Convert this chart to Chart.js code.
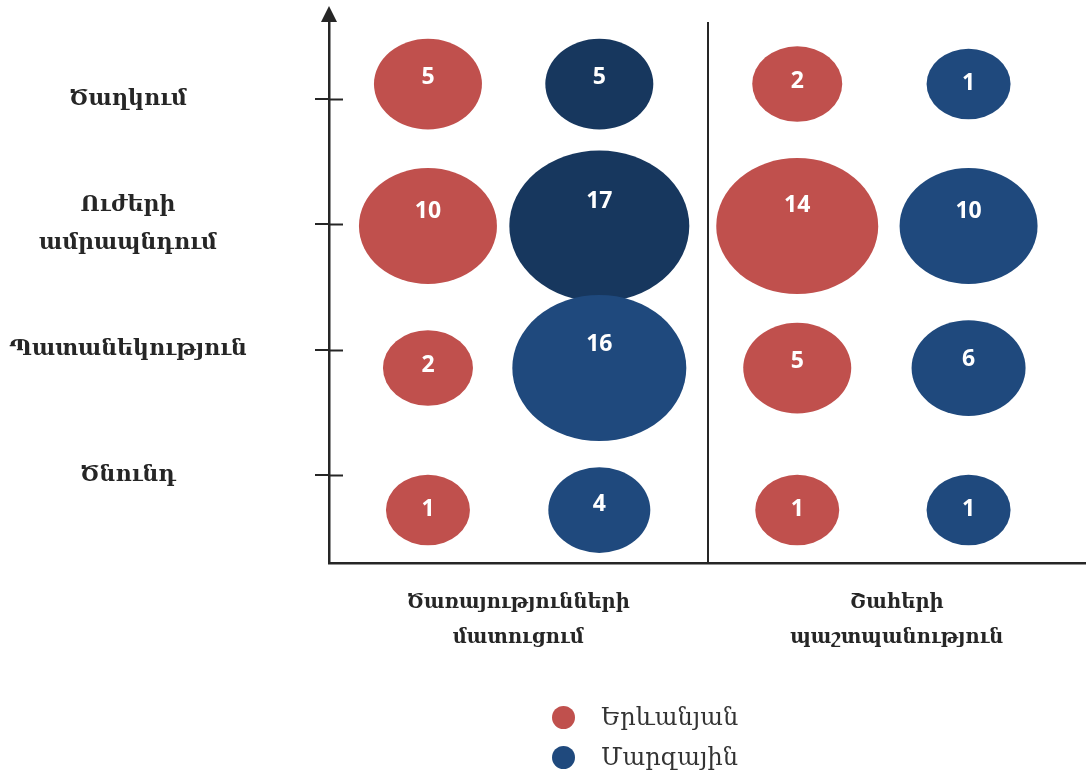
<!DOCTYPE html>
<html>
<head>
<meta charset="utf-8">
<script src="https://cdn.jsdelivr.net/npm/chart.js@4/dist/chart.umd.min.js"></script>
<style>
    html, body { margin: 0; padding: 0; background: #fff; }
    #wrap { position: relative; width: 1086px; height: 780px; }
    #legend { position: absolute; left: 552px; top: 697px; font-family: "DejaVu Serif", serif; font-size: 24px; color: #333; }
    .legend-row { display: flex; align-items: center; height: 40px; }
    .legend-dot { width: 23px; height: 23px; border-radius: 50%; margin-right: 26px; }
</style>
</head>
<body>
<div id="wrap">
    <canvas id="chart" width="1086" height="780"></canvas>
    <div id="legend"></div>
</div>
<script>
    // stages, top to bottom
    const stages = ["Ծաղկում", ["Ուժերի", "ամրապնդում"], "Պատանեկություն", "Ծնունդ"];
    const groups = [["Ծառայությունների", "մատուցում"], ["Շահերի", "պաշտպանություն"]];
    const seriesNames = ["Երևանյան", "Մարզային"];

    const yerevanServices = [5, 10, 2, 1];
    const yerevanAdvocacy = [2, 14, 5, 1];
    const regionServices = [5, 17, 16, 4];
    const regionAdvocacy = [1, 10, 6, 1];

    const RED = "#C0504D";
    const BLUE = "#1F497D";
    const DARK_BLUE = "#17375E";
    const INK = "#262626";
    const SIDE = 0.232;

    // bubbles in the source are slightly flattened ellipses
    class EllipsePoint extends Chart.PointElement {
        static id = "ellipsePoint";
        draw(ctx) {
            const o = this.options;
            if (this.skip || o.radius < 0.1) return;
            ctx.save();
            ctx.fillStyle = o.backgroundColor;
            ctx.beginPath();
            ctx.ellipse(this.x, this.y, o.radius, o.radius * 0.84, 0, 0, Math.PI * 2);
            ctx.fill();
            ctx.restore();
        }
    }
    class EllipseBubble extends Chart.BubbleController {
        static id = "ellipseBubble";
        static defaults = { dataElementType: "ellipsePoint" };
    }
    Chart.register(EllipsePoint, EllipseBubble);

    const sizeFor = (v) => 39 + 3 * v;

    function buildPoints(services, advocacy, side) {
        const pts = [];
        [services, advocacy].forEach((vals, g) => {
            vals.forEach((v, i) => {
                pts.push({ x: g + 1 + side, y: stages.length - i, r: sizeFor(v), v });
            });
        });
        return pts;
    }

    const yFont = { family: "DejaVu Serif", size: 22, weight: "bold", lineHeight: 1.7 };
    const xFont = { family: "DejaVu Serif", size: 19.5, weight: "bold", lineHeight: 1.8 };
    const measure = document.createElement("canvas").getContext("2d");
    measure.font = `bold ${yFont.size}px "${yFont.family}"`;
    const widest = Math.max(...stages.flat().map((s) => measure.measureText(s).width));
    const yLabelPad = 329 - 14 - 128 - widest / 2;

    const valueLabels = {
        id: "valueLabels",
        afterDatasetsDraw(chart) {
            const { ctx } = chart;
            ctx.save();
            ctx.fillStyle = "#fff";
            ctx.font = 'bold 23px "Open Sans"';
            ctx.textAlign = "center";
            ctx.textBaseline = "middle";
            chart.data.datasets.forEach((ds, di) => {
                chart.getDatasetMeta(di).data.forEach((el, i) => {
                    const r = el.options.radius;
                    ctx.fillText(String(ds.data[i].v), el.x, el.y - Math.max(0, r - 40) * 0.5);
                });
            });
            ctx.restore();
        },
    };

    const axisDecor = {
        id: "axisDecor",
        afterDraw(chart) {
            const { ctx, chartArea } = chart;
            const y = chart.scales.y;
            ctx.save();
            ctx.strokeStyle = INK;
            ctx.fillStyle = INK;
            ctx.lineWidth = 2;
            y.ticks.forEach((t, i) => {
                const py = Math.round(y.getPixelForTick(i)) + 0.5;
                ctx.beginPath();
                ctx.moveTo(chartArea.left, py);
                ctx.lineTo(chartArea.left + 14, py);
                ctx.stroke();
            });
            ctx.beginPath();
            ctx.moveTo(chartArea.left, chartArea.top);
            ctx.lineTo(chartArea.left, chartArea.top - 4);
            ctx.stroke();
            ctx.beginPath();
            ctx.moveTo(chartArea.left, chartArea.top - 16);
            ctx.lineTo(chartArea.left - 8, chartArea.top);
            ctx.lineTo(chartArea.left + 8, chartArea.top);
            ctx.closePath();
            ctx.fill();
            ctx.restore();
        },
    };

    const chart = new Chart(document.getElementById("chart"), {
        type: "ellipseBubble",
        data: {
            datasets: [
                {
                    label: seriesNames[0],
                    data: buildPoints(yerevanServices, yerevanAdvocacy, -SIDE),
                    backgroundColor: RED,
                    xAxisID: "xb",
                    yAxisID: "yb",
                },
                {
                    label: seriesNames[1],
                    data: buildPoints(regionServices, regionAdvocacy, SIDE),
                    backgroundColor: [DARK_BLUE, DARK_BLUE, BLUE, BLUE, BLUE, BLUE, BLUE, BLUE],
                    xAxisID: "xb",
                    yAxisID: "yb",
                },
            ],
        },
        options: {
            responsive: false,
            animation: false,
            layout: { autoPadding: false, padding: { top: 22, right: 0, bottom: 0, left: 0 } },
            plugins: {
                legend: { display: false },
                tooltip: { enabled: false },
            },
            scales: {
                x: {
                    type: "category",
                    labels: groups,
                    offset: true,
                    position: "bottom",
                    grid: {
                        offset: true,
                        drawTicks: false,
                        lineWidth: 2,
                        color: (c) => (c.index === 1 ? INK : "rgba(0,0,0,0)"),
                    },
                    border: { color: INK, width: 2.5 },
                    ticks: { font: xFont, color: INK, padding: 22, maxRotation: 0, autoSkip: false },
                    afterFit: (s) => {
                        s.height = 217;
                        s.paddingLeft = 0;
                        s.paddingRight = 0;
                    },
                },
                xb: { type: "linear", display: false, min: 0.5, max: 2.55 },
                y: {
                    type: "linear",
                    position: "left",
                    min: 0.298,
                    max: 4.614,
                    afterBuildTicks: (s) => {
                        s.ticks = stages.map((_, i) => ({ value: stages.length - i }));
                    },
                    ticks: {
                        font: yFont,
                        color: INK,
                        crossAlign: "center",
                        padding: yLabelPad,
                        callback: (v) => stages[stages.length - v],
                    },
                    grid: { drawOnChartArea: false, tickLength: 14, lineWidth: 2, color: INK },
                    border: { color: INK, width: 2.5 },
                    afterFit: (s) => {
                        s.width = 329;
                        s.paddingTop = 0;
                        s.paddingBottom = 0;
                    },
                },
                yb: { type: "linear", display: false, min: 0.627, max: 4.437 },
            },
        },
        plugins: [valueLabels, axisDecor],
    });

    const legend = document.getElementById("legend");
    chart.data.datasets.forEach((ds) => {
        const row = document.createElement("div");
        row.className = "legend-row";
        const dot = document.createElement("span");
        dot.className = "legend-dot";
        dot.style.background = Array.isArray(ds.backgroundColor) ? BLUE : ds.backgroundColor;
        const text = document.createElement("span");
        text.textContent = ds.label;
        row.appendChild(dot);
        row.appendChild(text);
        legend.appendChild(row);
    });
</script>
</body>
</html>
